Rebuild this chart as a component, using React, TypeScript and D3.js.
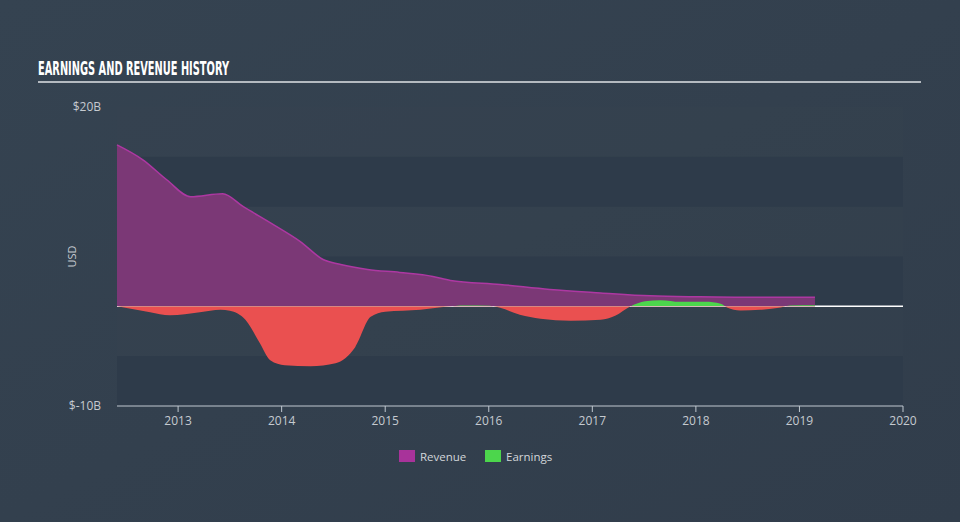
import React from "react";
import * as d3 from "d3";

const W = 960;
const H = 522;

const revenueYears = [2012.41, 2012.66, 2012.89, 2013.12, 2013.43, 2013.63, 2013.92, 2014.18, 2014.4, 2014.57, 2014.83, 2015.14, 2015.46, 2015.63, 2016.11, 2016.59, 2017.08, 2017.56, 2018.04, 2018.53, 2019.15];
const revenueValues = [16.2, 14.7, 12.7, 11.0, 11.3, 10.0, 8.2, 6.5, 4.7, 4.2, 3.7, 3.4, 3.0, 2.6, 2.2, 1.7, 1.35, 1.05, 0.95, 0.9, 0.9];

const earningsYears = [2012.41, 2012.73, 2012.92, 2013.21, 2013.41, 2013.5, 2013.65, 2013.79, 2013.89, 2014.03, 2014.28, 2014.52, 2014.71, 2014.86, 2015.0, 2015.34, 2015.58, 2015.77, 2016.01, 2016.11, 2016.3, 2016.5, 2016.79, 2017.08, 2017.22, 2017.37, 2017.51, 2017.66, 2017.85, 2018.09, 2018.24, 2018.3, 2018.43, 2018.62, 2018.82, 2018.91, 2019.15];
const earningsValues = [0, -0.6, -0.9, -0.6, -0.35, -0.45, -1.35, -3.7, -5.4, -5.9, -6.0, -5.7, -4.1, -1.05, -0.55, -0.35, -0.05, 0.08, 0.05, -0.15, -0.85, -1.25, -1.45, -1.35, -0.95, 0, 0.5, 0.62, 0.45, 0.45, 0.25, -0.12, -0.42, -0.35, -0.12, 0.08, 0.12];

const xTicks = [2013, 2014, 2015, 2016, 2017, 2018, 2019, 2020];
const yTickLabels = [
  { v: 20, label: "$20B" },
  { v: -10, label: "$-10B" },
];
const bands = [[10, 15], [0, 5], [-10, -5]];

export default function App() {
  const x = d3.scaleLinear().domain([2012.41, 2020]).range([117, 903]);
  const y = d3.scaleLinear().domain([-10, 20]).range([406, 107]);
  const y0 = y(0);

  const rev = revenueYears.map((t, i) => [t, revenueValues[i]] as [number, number]);
  const earn = earningsYears.map((t, i) => [t, earningsValues[i]] as [number, number]);

  const revArea = d3
    .area<[number, number]>()
    .x((d) => x(d[0]))
    .y0(y0)
    .y1((d) => y(d[1]))
    .curve(d3.curveMonotoneX);
  const revLine = d3
    .line<[number, number]>()
    .x((d) => x(d[0]))
    .y((d) => y(d[1]))
    .curve(d3.curveMonotoneX);
  const earnArea = d3
    .area<[number, number]>()
    .x((d) => x(d[0]))
    .y0(y0)
    .y1((d) => y(d[1]))
    .curve(d3.curveMonotoneX);

  const font = "'Open Sans', 'DejaVu Sans', sans-serif";

  return (
    <svg width={W} height={H} style={{ position: "absolute", left: 0, top: 0 }}>
      <defs>
        <linearGradient id="bg" x1="0" y1="0" x2="1" y2="1">
          <stop offset="0" stopColor="#354351" />
          <stop offset="1" stopColor="#313d4b" />
        </linearGradient>
        <clipPath id="above">
          <rect x={0} y={0} width={W} height={y0} />
        </clipPath>
        <clipPath id="below">
          <rect x={0} y={y0} width={W} height={H - y0} />
        </clipPath>
      </defs>
      <rect x={0} y={0} width={W} height={H} fill="url(#bg)" />
      <text
        x={38}
        y={75}
        fill="#ffffff"
        fontFamily="'DejaVu Sans Condensed', 'Liberation Sans Narrow', sans-serif"
        fontWeight="bold"
        fontSize={19}
        textLength={191}
        lengthAdjust="spacingAndGlyphs"
      >
        EARNINGS AND REVENUE HISTORY
      </text>
      <rect x={38} y={81} width={883} height={2} fill="#b4bac0" />

      <rect x={117} y={y(20)} width={786} height={y(-10) - y(20)} fill="#37444f" opacity={0.25} />
      {bands.map((b, i) => (
        <rect key={i} x={117} y={y(b[1])} width={786} height={y(b[0]) - y(b[1])} fill="#2e3b4a" />
      ))}

      {yTickLabels.map((t) => (
        <text key={t.v} x={101} y={y(t.v) + 4} textAnchor="end" fill="#c5cad0" fontFamily={font} fontSize={12}>
          {t.label}
        </text>
      ))}
      <text transform={`translate(76,${y(5)}) rotate(-90)`} textAnchor="middle" fill="#c5cad0" fontFamily={font} fontSize={11}>
        USD
      </text>

      <line x1={117} x2={903} y1={y0} y2={y0} stroke="#ffffff" strokeWidth={1.5} />
      <path d={revArea(rev) || ""} fill="#7b3876" />
      <path d={revLine(rev) || ""} fill="none" stroke="#ad38a2" strokeWidth={1.5} />
      <path d={earnArea(earn) || ""} fill="#4cd64c" clipPath="url(#above)" />
      <path d={earnArea(earn) || ""} fill="#ea5050" clipPath="url(#below)" />

      <line x1={117} x2={903} y1={406} y2={406} stroke="#c0c8d0" strokeWidth={1} />
      {xTicks.map((t) => (
        <g key={t}>
          <line x1={x(t)} x2={x(t)} y1={406} y2={412} stroke="#c0c8d0" strokeWidth={1} />
          <text x={x(t)} y={425} textAnchor="middle" fill="#c5cad0" fontFamily={font} fontSize={12}>
            {t}
          </text>
        </g>
      ))}

      <rect x={399} y={450} width={16} height={12} fill="#a8339a" />
      <text x={420} y={461} fill="#d2d6da" fontFamily={font} fontSize={11.5}>
        Revenue
      </text>
      <rect x={485} y={450} width={16} height={12} fill="#4cd64c" />
      <text x={506} y={461} fill="#d2d6da" fontFamily={font} fontSize={11.5}>
        Earnings
      </text>
    </svg>
  );
}
